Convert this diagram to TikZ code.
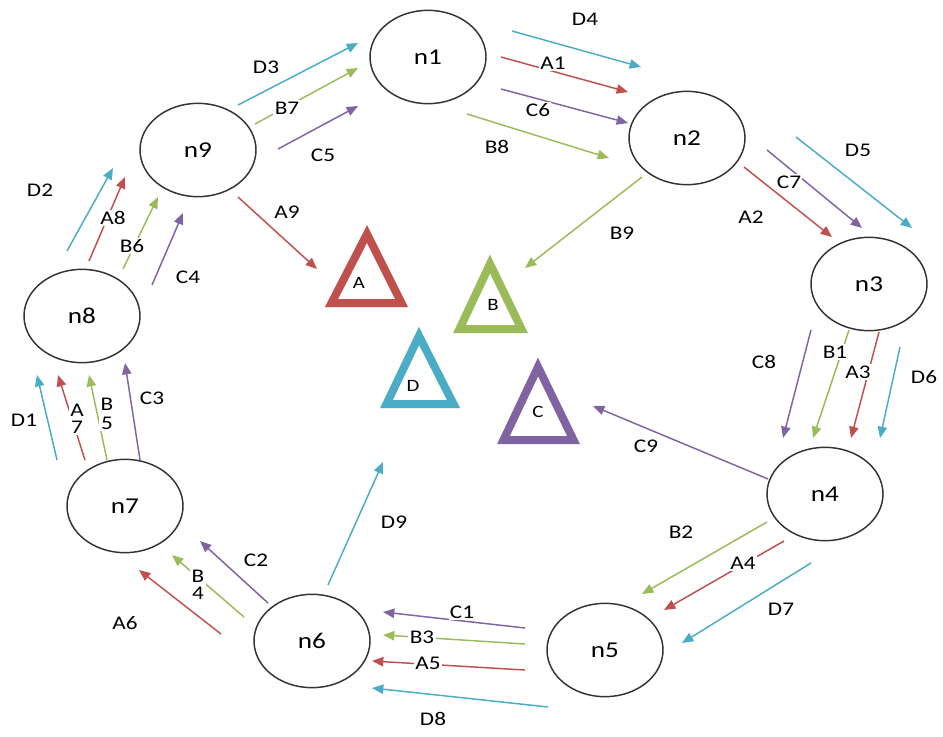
\documentclass[tikz,border=0pt]{standalone}
\usepackage{fontspec}
\setmainfont{Carlito}[FakeStretch=1.2]
\usetikzlibrary{arrows.meta,shapes.geometric}
\definecolor{cA}{HTML}{C0504D}
\definecolor{cB}{HTML}{9BBB59}
\definecolor{cC}{HTML}{8064A2}
\definecolor{cD}{HTML}{4BACC6}
\begin{document}
\begin{tikzpicture}[x=0.75pt,y=-0.75pt,
  nd/.style={draw=black!80, line width=1.1pt, ellipse, minimum width=87pt, minimum height=70pt, inner sep=0pt, font=\fontsize{17}{20}\selectfont, text=black},
  arr/.style={line width=1.1pt, -{Triangle[length=8.5pt,width=7pt]}},
  lbl/.style={font=\fontsize{14.5}{16}\selectfont, text=black, inner sep=1pt, align=center},
  lblw/.style={lbl, fill=white},
  tri/.style={line width=6pt, line join=miter},
  trishadow/.style={line width=6pt, line join=miter, draw=black!25, opacity=0.5},
  tlbl/.style={font=\fontsize{13}{15}\selectfont, text=black, inner sep=0pt}
]
\useasboundingbox (0,0) rectangle (943,736);

% nodes
\node[nd] (n1) at (428,57) {n1};
\node[nd] (n2) at (687,138) {n2};
\node[nd] (n3) at (869,284) {n3};
\node[nd] (n4) at (825,494) {n4};
\node[nd] (n5) at (605,650) {n5};
\node[nd] (n6) at (312,641) {n6};
\node[nd] (n7) at (125,506) {n7};
\node[nd] (n8) at (82,316) {n8};
\node[nd] (n9) at (198,150) {n9};

% triangles
\coordinate (tA1) at (367,234); \coordinate (tA2) at (331.5,303); \coordinate (tA3) at (401.5,303);
\coordinate (tB1) at (490,264); \coordinate (tB2) at (459.5,329); \coordinate (tB3) at (521.5,329);
\coordinate (tD1) at (419,336); \coordinate (tD2) at (386.5,404); \coordinate (tD3) at (453.5,404);
\coordinate (tC1) at (538,367); \coordinate (tC2) at (503.5,440); \coordinate (tC3) at (573.5,440);
\foreach \t in {A,B,C,D}{
  \draw[trishadow, shift={(1.5,2.5)}] (t\t1) -- (t\t2) -- (t\t3) -- cycle;
}
\draw[tri, draw=cA] (tA1) -- (tA2) -- (tA3) -- cycle;
\draw[tri, draw=cB] (tB1) -- (tB2) -- (tB3) -- cycle;
\draw[tri, draw=cD] (tD1) -- (tD2) -- (tD3) -- cycle;
\draw[tri, draw=cC] (tC1) -- (tC2) -- (tC3) -- cycle;
\node[tlbl] (tA) at (359,283) {A};
\node[tlbl] (tB) at (493,305) {B};
\node[tlbl] (tD) at (413,386) {D};
\node[tlbl] (tC) at (538,412) {C};

% arrow end points
\coordinate (D3s) at (238,105); \coordinate (D3e) at (358,43);
\coordinate (B7s) at (255,124); \coordinate (B7e) at (358,68);
\coordinate (C5s) at (278,149); \coordinate (C5e) at (358,106);
\coordinate (D4s) at (512,31);  \coordinate (D4e) at (641,67);
\coordinate (A1s) at (501,57);  \coordinate (A1e) at (628,92);
\coordinate (C6s) at (501,89);  \coordinate (C6e) at (628,123);
\coordinate (B8s) at (467,114); \coordinate (B8e) at (609,158);
\coordinate (D5s) at (796,137); \coordinate (D5e) at (912,228);
\coordinate (A2s) at (744,167); \coordinate (A2e) at (832,237);
\coordinate (C7s) at (767,150); \coordinate (C7e) at (862,228);
\coordinate (B9s) at (642,177); \coordinate (B9e) at (525,268);
\coordinate (C8s) at (811,330); \coordinate (C8e) at (783,438);
\coordinate (B1s) at (849,330); \coordinate (B1e) at (813,438);
\coordinate (A3s) at (879,332); \coordinate (A3e) at (851,438);
\coordinate (D6s) at (900,347); \coordinate (D6e) at (880,438);
\coordinate (C9s) at (768,479); \coordinate (C9e) at (593,406);
\coordinate (B2s) at (767,522); \coordinate (B2e) at (642,594);
\coordinate (A4s) at (784,541); \coordinate (A4e) at (664,610);
\coordinate (D7s) at (811,563); \coordinate (D7e) at (682,643);
\coordinate (C1s) at (525,628); \coordinate (C1e) at (383,612);
\coordinate (B3s) at (525,644); \coordinate (B3e) at (383,635);
\coordinate (A5s) at (525,670); \coordinate (A5e) at (372,661);
\coordinate (D8s) at (548,707); \coordinate (D8e) at (372,688);
\coordinate (D9s) at (328,585); \coordinate (D9e) at (383,462);
\coordinate (C2s) at (268,603); \coordinate (C2e) at (200,541);
\coordinate (B4s) at (244,617); \coordinate (B4e) at (172,555);
\coordinate (A6s) at (221,634); \coordinate (A6e) at (139,570);
\coordinate (C3s) at (140,460); \coordinate (C3e) at (125,363);
\coordinate (B5s) at (107,460); \coordinate (B5e) at (89,375);
\coordinate (A7s) at (85,460);  \coordinate (A7e) at (58,375);
\coordinate (D1s) at (57,460);  \coordinate (D1e) at (37,375);
\coordinate (C4s) at (152,285); \coordinate (C4e) at (183,213);
\coordinate (B6s) at (123,269); \coordinate (B6e) at (158,197);
\coordinate (A8s) at (89,261);  \coordinate (A8e) at (125,177);
\coordinate (D2s) at (67,251);  \coordinate (D2e) at (113,168);
\coordinate (A9s) at (238,197); \coordinate (A9e) at (317,269);

% arrows
\foreach \a in {A1,A2,A3,A4,A5,A6,A7,A8,A9}{\draw[arr, draw=cA, fill=cA] (\a s) -- (\a e);}
\foreach \a in {B1,B2,B3,B4,B5,B6,B7,B8,B9}{\draw[arr, draw=cB, fill=cB] (\a s) -- (\a e);}
\foreach \a in {C1,C2,C3,C4,C5,C6,C7,C8,C9}{\draw[arr, draw=cC, fill=cC] (\a s) -- (\a e);}
\foreach \a in {D1,D2,D3,D4,D5,D6,D7,D8,D9}{\draw[arr, draw=cD, fill=cD] (\a s) -- (\a e);}

% labels
\node[lbl]  (lD3) at (266,67)  {D3};
\node[lblw] (lB7) at (287,108) {B7};
\node[lbl]  (lC5) at (323,155) {C5};
\node[lbl]  (lD4) at (585,19)  {D4};
\node[lblw] (lA1) at (553,63)  {A1};
\node[lblw] (lC6) at (538,110) {C6};
\node[lbl]  (lB8) at (497,147) {B8};
\node[lbl]  (lD5) at (858,150) {D5};
\node[lbl]  (lA2) at (751,217) {A2};
\node[lblw] (lC7) at (789,182) {C7};
\node[lbl]  (lB9) at (622,233) {B9};
\node[lbl]  (lC8) at (764,362) {C8};
\node[lblw] (lB1) at (835,352) {B1};
\node[lblw] (lA3) at (858,372) {A3};
\node[lbl]  (lD6) at (924,377) {D6};
\node[lbl]  (lC9) at (646,446) {C9};
\node[lbl]  (lB2) at (681,532) {B2};
\node[lblw] (lA4) at (743,563) {A4};
\node[lbl]  (lD7) at (781,609) {D7};
\node[lblw] (lC1) at (462,612) {C1};
\node[lblw] (lB3) at (422,637) {B3};
\node[lblw] (lA5) at (428,663) {A5};
\node[lbl]  (lD8) at (433,719) {D8};
\node[lbl]  (lD9) at (394,522) {D9};
\node[lbl]  (lC2) at (256,560) {C2};
\node[lblw] (lB4) at (198,585) {B\\[-3pt]4};
\node[lbl]  (lA6) at (125,623) {A6};
\node[lbl]  (lC3) at (152,398) {C3};
\node[lblw] (lB5) at (107,414) {B\\[-2pt]5};
\node[lblw] (lA7) at (77,419)  {A\\[-3pt]7};
\node[lbl]  (lD1) at (24,420)  {D1};
\node[lbl]  (lC4) at (188,277) {C4};
\node[lblw] (lB6) at (132,246) {B6};
\node[lblw] (lA8) at (113,218) {A8};
\node[lbl]  (lD2) at (40,190)  {D2};
\node[lbl]  (lA9) at (287,212) {A9};
\end{tikzpicture}
\end{document}
